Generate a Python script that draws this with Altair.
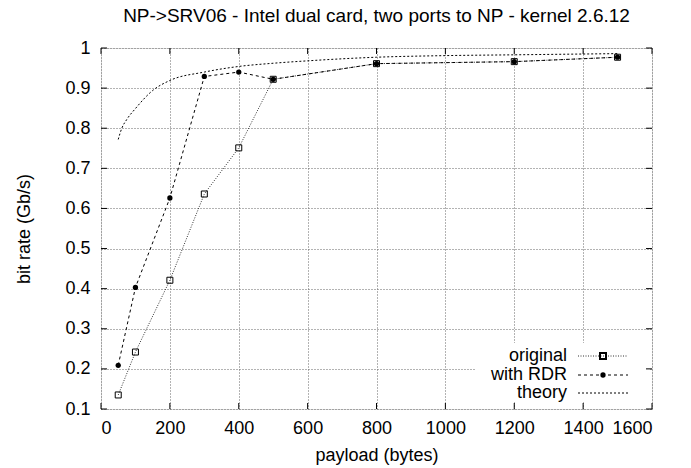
import altair as alt
import pandas as pd

# ---- data ----
payload = [50, 100, 200, 300, 400, 500, 800, 1200, 1500]
original = [0.135, 0.242, 0.421, 0.636, 0.751, 0.922, 0.961, 0.966, 0.977]
with_rdr = [0.209, 0.403, 0.626, 0.929, 0.940, 0.922, 0.961, 0.966, 0.977]
theory_x = [50, 60, 75, 100, 150, 200, 300, 400, 500, 600, 800, 1000, 1200, 1500]
theory_y = [0.772, 0.799, 0.822, 0.849, 0.894, 0.919, 0.940, 0.954, 0.962, 0.968,
            0.977, 0.981, 0.983, 0.986]
series_names = ["original", "with RDR", "theory"]
x_ticks = [0, 200, 400, 600, 800, 1000, 1200, 1400, 1600]
y_ticks = [0.1, 0.2, 0.3, 0.4, 0.5, 0.6, 0.7, 0.8, 0.9, 1.0]

TITLE = "NP->SRV06 - Intel dual card, two ports to NP - kernel 2.6.12"
FONT = "Liberation Sans"
W, H = 551, 361
FS = 18

xs = alt.Scale(domain=[0, 1600], nice=False)
ys = alt.Scale(domain=[0.1, 1.0], nice=False, zero=False)

orig_df = pd.DataFrame({"payload": payload, "rate": original})
rdr_df = pd.DataFrame({"payload": payload, "rate": with_rdr})
th_df = pd.DataFrame({"payload": theory_x, "rate": theory_y})

x_axis = alt.Axis(values=x_ticks, title="payload (bytes)", grid=True,
                  gridDash=[1, 2], gridColor="#666", gridWidth=1, format="d",
                  tickSize=0, domain=False, labelFontSize=FS, titleFontSize=FS,
                  labelFont=FONT, titleFont=FONT, titleFontWeight="normal",
                  labelColor="black", titleColor="black", labelPadding=10,
                  titlePadding=9)
y_axis = alt.Axis(values=y_ticks, title="bit rate (Gb/s)", grid=True,
                  gridDash=[1, 2], gridColor="#666", gridWidth=1,
                  tickSize=0, domain=False, labelFontSize=FS, titleFontSize=FS,
                  labelFont=FONT, titleFont=FONT, titleFontWeight="normal",
                  labelColor="black", titleColor="black", format=".1~f",
                  labelPadding=11, titlePadding=31)

X = alt.X("payload:Q", scale=xs, axis=x_axis)
Y = alt.Y("rate:Q", scale=ys, axis=y_axis)

theory_line = alt.Chart(th_df).mark_line(
    color="black", strokeDash=[2, 2], strokeWidth=1, interpolate="monotone"
).encode(x=X, y=Y)

orig_line = alt.Chart(orig_df).mark_line(
    color="#333", strokeDash=[1, 1.5], strokeWidth=1
).encode(x=X, y=Y)
orig_pts = alt.Chart(orig_df).mark_point(
    shape="square", size=36, filled=False, color="black", strokeWidth=1, opacity=1
).encode(x=X, y=Y)

rdr_line = alt.Chart(rdr_df).mark_line(
    color="black", strokeDash=[3, 3], strokeWidth=1
).encode(x=X, y=Y)
rdr_pts = alt.Chart(rdr_df).mark_point(
    shape="circle", size=28, filled=True, color="black", opacity=1
).encode(x=X, y=Y)

# legend background (blanks the grid as in the reference)
one = pd.DataFrame({"k": [0]})
legend_bg = alt.Chart(one).mark_rect(color="white").encode(
    x=alt.value(374), x2=alt.value(548), y=alt.value(295), y2=alt.value(353)
)

# inside ticks on all four sides
xt_df = pd.DataFrame({"payload": x_ticks})
yt_df = pd.DataFrame({"rate": y_ticks})
tick_bottom = alt.Chart(xt_df).mark_rule(color="black").encode(
    x=X, y=alt.value(H), y2=alt.value(H - 6))
tick_top = alt.Chart(xt_df).mark_rule(color="black").encode(
    x=X, y=alt.value(0), y2=alt.value(6))
tick_left = alt.Chart(yt_df).mark_rule(color="black").encode(
    y=Y, x=alt.value(0), x2=alt.value(6))
tick_right = alt.Chart(yt_df).mark_rule(color="black").encode(
    y=Y, x=alt.value(W), x2=alt.value(W - 6))

# legend (gnuplot style: text on the left, sample on the right)
row_y = [308, 327, 345]
txt_x, s0, s1 = 466, 477, 527
sm = (s0 + s1) / 2

def leg_text(i):
    return alt.Chart(one).mark_text(
        align="right", baseline="middle", fontSize=FS, font=FONT, color="black",
        text=series_names[i]
    ).encode(x=alt.value(txt_x), y=alt.value(row_y[i]))

def leg_rule(i, dash, color):
    return alt.Chart(one).mark_rule(color=color, strokeDash=dash, strokeWidth=1).encode(
        x=alt.value(s0), x2=alt.value(s1), y=alt.value(row_y[i]))

leg_orig = leg_rule(0, [1, 1.5], "#333")
leg_rdr = leg_rule(1, [3, 3], "black")
leg_th = leg_rule(2, [2, 2], "black")
leg_sq = alt.Chart(one).mark_point(shape="square", size=36, filled=False,
                                   color="black", opacity=1).encode(
    x=alt.value(sm), y=alt.value(row_y[0]))
leg_ci = alt.Chart(one).mark_point(shape="circle", size=28, filled=True,
                                   color="black", opacity=1).encode(
    x=alt.value(sm), y=alt.value(row_y[1]))

chart = alt.layer(
    theory_line, orig_line, rdr_line, orig_pts, rdr_pts,
    legend_bg, tick_bottom, tick_top, tick_left, tick_right,
    leg_text(0), leg_text(1), leg_text(2),
    leg_orig, leg_rdr, leg_th, leg_sq, leg_ci
).properties(
    width=W, height=H,
    title=alt.TitleParams(TITLE, fontSize=19, font=FONT, fontWeight="normal",
                          color="black", offset=13),
    autosize=alt.AutoSizeParams(type="none"),
    padding={"left": 93, "top": 40, "right": 30, "bottom": 59},
).configure_view(stroke="black", strokeWidth=1.2).configure(background="white")

chart.save("out.html", embed_options={"renderer": "svg", "actions": False})
